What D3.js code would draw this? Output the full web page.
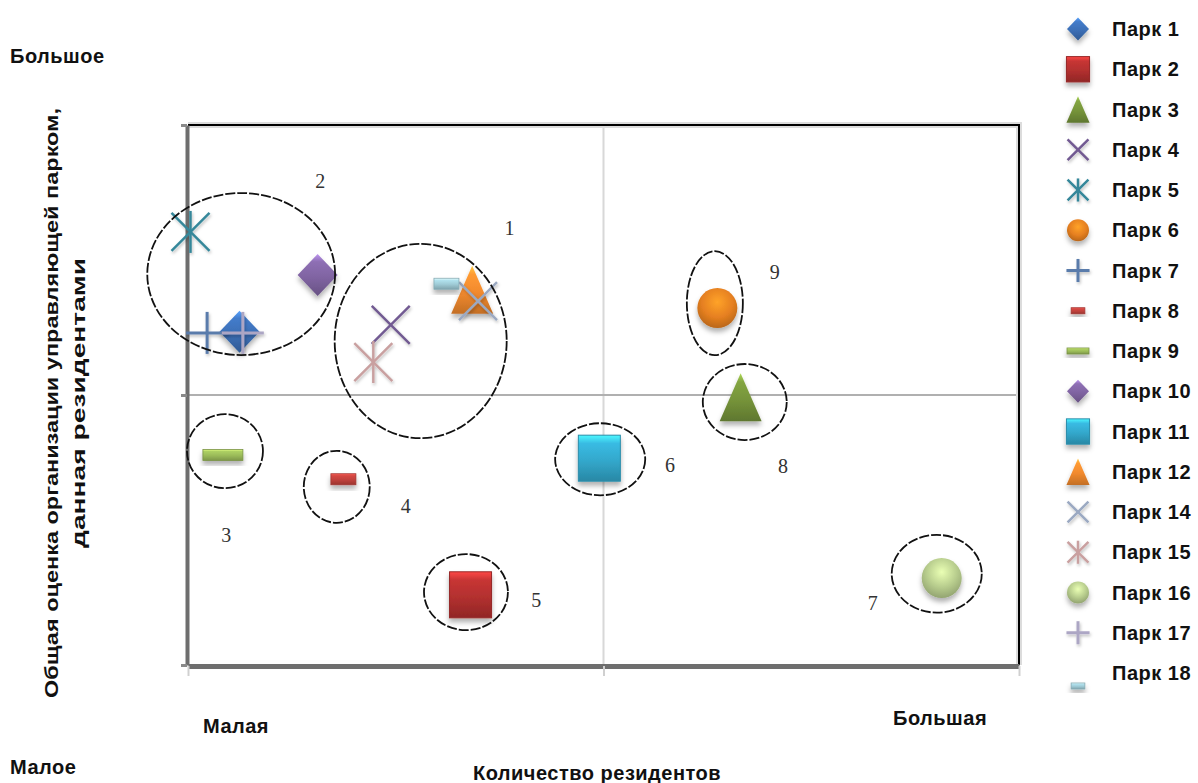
<!DOCTYPE html>
<html>
<head>
<meta charset="utf-8">
<script src="https://cdn.jsdelivr.net/npm/d3@7"></script>
<style>
body{margin:0;background:#fff;}
text{font-family:"Liberation Sans",Arial,sans-serif;}
</style>
</head>
<body>
<script>
//parks, positions on 0..100 scales
var parks = ['Парк 1','Парк 2','Парк 3','Парк 4','Парк 5','Парк 6','Парк 7','Парк 8','Парк 9',
             'Парк 10','Парк 11','Парк 12','Парк 14','Парк 15','Парк 16','Парк 17','Парк 18'];
var residents = [6.2, 34.0, 66.5, 24.4, 0.3, 63.7, 2.3, 18.7, 4.2, 15.6, 49.5, 34.2, 34.9, 22.3, 90.7, 6.6, 31.1];
var rating    = [61.7, 13.0, 49.6, 63.0, 80.2, 66.1, 61.5, 34.4, 38.9, 72.2, 38.3, 69.5, 67.4, 56.1, 16.1, 61.5, 70.6];

//marker types and colours (legend order)
var markerType  = ['diamond','square','triangle','x','asterisk','circle','plus','smallrect','bar',
                   'diamond','square','triangle','x','asterisk','circle','plus','smallrect'];
var markerColor = ['#3c6fb6','#b3302f','#76943a','#725a92','#35879a','#e57f20','#5a7bab','#c0413c','#9bbb59',
                   '#8064a2','#33a8cc','#f28a2e','#9ba9c2','#c9a0a0','#b6cb8c','#aca6c4','#9fcbd6'];

//circled groups
var groupNames = ['1','2','3','4','5','6','7','8','9'];
var groupX  = [28.0, 6.4, 4.45, 17.9, 33.45, 49.6, 90.1, 67.0, 63.4];
var groupY  = [60.0, 72.4, 39.6, 33.0, 13.5, 38.1, 16.9, 48.7, 67.0];
var groupRx = [10.35, 11.3, 4.57, 3.97, 5.05, 5.42, 5.42, 5.05, 3.37];
var groupRy = [18.0, 15.0, 6.85, 6.67, 7.04, 6.67, 7.2, 7.04, 9.63];
var labelX  = [38.7, 15.9, 4.6, 26.2, 41.9, 58.0, 82.4, 71.6, 70.6];
var labelY  = [80.9, 89.6, 24.1, 29.4, 12.0, 37.0, 11.5, 36.9, 72.8];

var ticks = [0, 50, 100];

var width = 1198, height = 783;

var svg = d3.select('body').append('svg')
    .attr('width', width)
    .attr('height', height);

var x = d3.scaleLinear().domain([0, 100]).range([188, 1019]);
var y = d3.scaleLinear().domain([0, 100]).range([665, 125]);

var defs = svg.append('defs');

//soft shadow under filled markers
var shadow = defs.append('filter').attr('id', 'shadow')
    .attr('x', '-50%').attr('y', '-50%').attr('width', '200%').attr('height', '200%');
shadow.append('feDropShadow')
    .attr('dx', 0).attr('dy', 4).attr('stdDeviation', 2.5)
    .attr('flood-color', '#000').attr('flood-opacity', 0.3);

var lineShadow = defs.append('filter').attr('id', 'lshadow')
    .attr('x', '-50%').attr('y', '-50%').attr('width', '200%').attr('height', '200%');
lineShadow.append('feDropShadow')
    .attr('dx', 1).attr('dy', 2).attr('stdDeviation', 1.5)
    .attr('flood-color', '#000').attr('flood-opacity', 0.25);

//glossy gradients
markerColor.forEach(function(c, i){
    var base = d3.color(c);
    var g = defs.append('linearGradient').attr('id', 'grad' + i)
        .attr('x1', 0).attr('y1', 0).attr('x2', 0).attr('y2', 1);
    g.append('stop').attr('offset', '0%').attr('stop-color', base.brighter(1.1));
    g.append('stop').attr('offset', '18%').attr('stop-color', base.brighter(0.3));
    g.append('stop').attr('offset', '55%').attr('stop-color', base);
    g.append('stop').attr('offset', '100%').attr('stop-color', base.darker(0.6));

    var r = defs.append('radialGradient').attr('id', 'rgrad' + i)
        .attr('cx', '50%').attr('cy', '35%').attr('r', '65%');
    r.append('stop').attr('offset', '0%').attr('stop-color', base.brighter(0.7));
    r.append('stop').attr('offset', '60%').attr('stop-color', base);
    r.append('stop').attr('offset', '100%').attr('stop-color', base.darker(0.6));
});

//draw one marker into group g at scale s
function drawMarker(g, type, i, s){
    var c = markerColor[i];
    if (type == 'diamond') {
        var w = 20 * s, h = 21 * s;
        g.append('path').attr('d', 'M0,' + (-h) + 'L' + w + ',0L0,' + h + 'L' + (-w) + ',0Z')
            .attr('fill', 'url(#grad' + i + ')').attr('filter', 'url(#shadow)');
    } else if (type == 'square') {
        var w = 21 * s, h = 23 * s;
        g.append('rect').attr('x', -w).attr('y', -h).attr('width', 2 * w).attr('height', 2 * h)
            .attr('fill', 'url(#grad' + i + ')').attr('stroke', d3.color(c).darker(0.5))
            .attr('stroke-width', 1).attr('filter', 'url(#shadow)');
    } else if (type == 'triangle') {
        var w = 21 * s, h = 24 * s;
        g.append('path').attr('d', 'M0,' + (-h) + 'L' + w + ',' + h + 'L' + (-w) + ',' + h + 'Z')
            .attr('fill', 'url(#grad' + i + ')').attr('filter', 'url(#shadow)');
    } else if (type == 'circle') {
        g.append('circle').attr('r', 20 * s)
            .attr('fill', 'url(#rgrad' + i + ')').attr('filter', 'url(#shadow)');
    } else if (type == 'smallrect') {
        var w = 12.5 * s, h = 5.5 * s;
        g.append('rect').attr('x', -w).attr('y', -h).attr('width', 2 * w).attr('height', 2 * h)
            .attr('fill', 'url(#grad' + i + ')').attr('stroke', d3.color(c).darker(0.5))
            .attr('stroke-width', 0.8).attr('filter', 'url(#shadow)');
    } else if (type == 'bar') {
        var w = 20 * s, h = 5.5 * s;
        g.append('rect').attr('x', -w).attr('y', -h).attr('width', 2 * w).attr('height', 2 * h)
            .attr('fill', 'url(#grad' + i + ')').attr('stroke', d3.color(c).darker(0.7))
            .attr('stroke-width', 0.8).attr('filter', 'url(#shadow)');
    } else {
        //line markers: shadow goes on the group so zero-width lines still render
        var a = 21 * s, d = 19 * s, segs = [];
        if (type == 'x' || type == 'asterisk') segs.push([-d, -d, d, d], [-d, d, d, -d]);
        if (type == 'asterisk') segs.push([0, -a, 0, a]);
        if (type == 'plus') segs.push([-a, 0, a, 0], [0, -a, 0, a]);
        g.append('g').attr('filter', 'url(#lshadow)')
            .selectAll('line').data(segs).enter().append('line')
            .attr('x1', function(d){ return d[0]; }).attr('y1', function(d){ return d[1]; })
            .attr('x2', function(d){ return d[2]; }).attr('y2', function(d){ return d[3]; })
            .attr('stroke', c).attr('stroke-width', type == 'plus' ? 3 : 2.5);
    }
}

//quadrant lines
svg.append('line')
    .attr('x1', x(50)).attr('x2', x(50)).attr('y1', y(100)).attr('y2', y(0))
    .attr('stroke', '#d8d8d8').attr('stroke-width', 2);
svg.append('line')
    .attr('x1', x(0)).attr('x2', x(100)).attr('y1', y(50)).attr('y2', y(50))
    .attr('stroke', '#b0b0b0').attr('stroke-width', 2);

//frame: top and right black with halo
svg.append('path')
    .attr('d', 'M' + x(0) + ',' + y(100) + 'H' + x(100) + 'V' + y(0))
    .attr('fill', 'none').attr('stroke', '#dcdcdc').attr('stroke-width', 6);
svg.append('path')
    .attr('d', 'M' + x(0) + ',' + y(100) + 'H' + x(100) + 'V' + y(0))
    .attr('fill', 'none').attr('stroke', '#000').attr('stroke-width', 2);

//axes
var yAxis = svg.append('g')
    .attr('transform', 'translate(' + (x(0) - 1) + ',0)')
    .call(d3.axisLeft(y).tickValues(ticks).tickFormat('').tickSize(6).tickSizeOuter(0));
yAxis.select('.domain').attr('stroke', '#6e6e6e').attr('stroke-width', 4);
yAxis.selectAll('.tick line').attr('stroke', '#8a8a8a').attr('stroke-width', 3);

var xAxis = svg.append('g')
    .attr('transform', 'translate(0,' + (y(0) + 1) + ')')
    .call(d3.axisBottom(x).tickValues(ticks).tickFormat('').tickSize(10).tickSizeOuter(0));
xAxis.select('.domain').attr('stroke', '#6e6e6e').attr('stroke-width', 5);
xAxis.selectAll('.tick line').attr('stroke', '#d0d0d0').attr('stroke-width', 2);

//markers
var pts = svg.append('g');
parks.forEach(function(p, i){
    var g = pts.append('g')
        .attr('transform', 'translate(' + x(residents[i]) + ',' + y(rating[i]) + ')');
    drawMarker(g, markerType[i], i, 1);
});

//group ellipses and numbers
svg.append('g').selectAll('ellipse')
    .data(groupNames).enter().append('ellipse')
    .attr('cx', function(d, i){ return x(groupX[i]); })
    .attr('cy', function(d, i){ return y(groupY[i]); })
    .attr('rx', function(d, i){ return x(groupRx[i]) - x(0); })
    .attr('ry', function(d, i){ return y(0) - y(groupRy[i]); })
    .attr('fill', 'none').attr('stroke', '#111').attr('stroke-width', 1.8)
    .attr('stroke-dasharray', '10,2');

svg.append('g').selectAll('text')
    .data(groupNames).enter().append('text')
    .attr('x', function(d, i){ return x(labelX[i]); })
    .attr('y', function(d, i){ return y(labelY[i]); })
    .attr('text-anchor', 'middle').attr('dominant-baseline', 'central')
    .style('font-family', '"Liberation Serif","Times New Roman",serif')
    .style('font-size', '20px').attr('fill', '#333')
    .text(function(d){ return d; });

//axis captions
function caption(txt, px, py, anchor){
    return svg.append('text').attr('x', px).attr('y', py)
        .attr('text-anchor', anchor || 'start')
        .style('font-size', '20px').style('font-weight', 'bold')
        .style('letter-spacing', '0.5px').attr('fill', '#111')
        .text(txt);
}
caption('Большое', 10, 63);
caption('Малое', 10, 774);
caption('Малая', 203, 733);
caption('Большая', 893, 725);
caption('Количество резидентов', 597, 780, 'middle');

var yTitle = svg.append('text')
    .attr('transform', 'translate(58,403) rotate(-90)')
    .attr('text-anchor', 'middle')
    .style('font-size', '18px').style('font-weight', 'bold').attr('fill', '#111');
yTitle.append('tspan').attr('x', 0).attr('y', 0)
    .attr('textLength', 590).attr('lengthAdjust', 'spacingAndGlyphs')
    .text('Общая оценка организации управляющей парком,');
yTitle.append('tspan').attr('x', 0).attr('y', 27)
    .attr('textLength', 290).attr('lengthAdjust', 'spacingAndGlyphs')
    .text('данная резидентами');

//legend
var legend = svg.append('g');
parks.forEach(function(p, i){
    var cy = 29 + i * 40.25;
    var mg = legend.append('g')
        .attr('transform', 'translate(1078,' + (i == parks.length - 1 ? cy + 13 : cy) + ')');
    drawMarker(mg, markerType[i], i, 0.55);
    legend.append('text').attr('x', 1112).attr('y', cy + 7)
        .style('font-size', '20px').style('font-weight', 'bold')
        .style('letter-spacing', '0.5px').attr('fill', '#111')
        .text(p);
});
</script>
</body>
</html>
